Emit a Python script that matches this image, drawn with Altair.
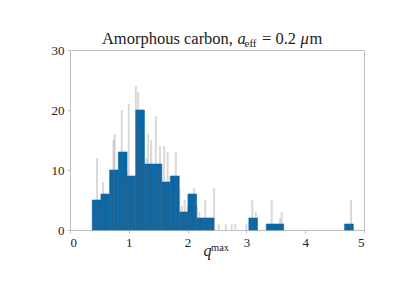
import altair as alt
import pandas as pd

SERIF = "'Liberation Serif', 'DejaVu Serif', serif"
BLUE = "#0668a9"
FRAME = "#c0c0c0"

# histogram bin edges (q^max) and counts
edges = [0.378, 0.526, 0.674, 0.822, 0.970, 1.118, 1.266, 1.414, 1.562, 1.710,
         1.858, 2.006, 2.154, 2.302, 2.450, 2.598, 2.746, 2.894, 3.042, 3.190,
         3.338, 3.486, 3.634, 3.782, 3.930, 4.078, 4.226, 4.374, 4.522, 4.670, 4.818]
counts = [5, 6, 10, 13, 9, 20, 11, 11, 8, 9, 3, 6, 2, 2, 0, 0, 0, 0, 2, 0,
          1, 1, 0, 0, 0, 0, 0, 0, 0, 1]

# thin grey lines (finer histogram)
grey_pos = [0.42, 0.46, 0.50, 0.56, 0.62, 0.70, 0.74, 0.76, 0.80, 0.88, 0.92, 0.96,
            1.00, 1.04, 1.08, 1.12, 1.16, 1.20, 1.24, 1.30, 1.33, 1.38, 1.42, 1.46,
            1.50, 1.53, 1.56, 1.60, 1.66, 1.70, 1.75, 1.80, 1.86, 1.90, 1.95, 2.00,
            2.05, 2.11, 2.16, 2.20, 2.26, 2.30, 2.36, 2.40, 2.45, 2.53, 2.65, 2.75,
            2.81, 3.00, 3.10, 3.16, 3.43, 3.57, 3.60, 4.78]
grey_h = [3, 12, 4, 8, 5, 7, 15, 16, 9, 20, 8, 10,
          21, 8, 9, 24, 23, 17, 11, 12, 16, 15, 7, 19,
          10, 14, 6, 14, 13, 9, 6, 13, 7, 4, 5, 4,
          3, 7, 4, 3, 2, 5, 2, 1, 7, 1, 1, 1,
          1, 1, 5, 3, 5, 2, 3, 5]

x_ticks = [0, 1, 2, 3, 4, 5]
y_ticks = [0, 5, 10, 15, 20, 25, 30]

bars_df = pd.DataFrame({"x0": edges[:-1], "x1": edges[1:], "count": counts})
bars_df = bars_df[bars_df["count"] > 0]
grey_df = pd.DataFrame({"pos": grey_pos, "h": grey_h})

xscale = alt.Scale(domain=[0, 5], nice=False)
yscale = alt.Scale(domain=[0, 30], nice=False)
axis_common = dict(grid=False, title=None, format="d", labelFont=SERIF, labelFontSize=13,
                   labelColor="#222222", domainColor=FRAME, tickColor=FRAME,
                   tickSize=3, labelPadding=3)

bars = alt.Chart(bars_df).mark_bar(color=BLUE, stroke=BLUE, strokeWidth=0.6, opacity=1).encode(
    x=alt.X("x0:Q", scale=xscale, axis=alt.Axis(values=x_ticks, **axis_common)),
    x2="x1:Q",
    y=alt.Y("count:Q", scale=yscale, axis=alt.Axis(values=y_ticks, **axis_common)),
    y2=alt.datum(0),
)

grey = alt.Chart(grey_df).mark_rule(color="#646464", opacity=0.245, strokeWidth=2).encode(
    x=alt.X("pos:Q", scale=xscale),
    y=alt.Y("h:Q", scale=yscale),
    y2=alt.datum(0),
)


def piece(txt, x, y, size, italic=False, align="left"):
    return alt.Chart(pd.DataFrame({"t": [txt]})).mark_text(
        align=align, baseline="alphabetic", font=SERIF, fontSize=size,
        fontStyle="italic" if italic else "normal", color="#222222", x=x, y=y
    ).encode(text="t:N")


title_y = -6
texts = [
    piece("Amorphous carbon,", 163, title_y, 16.5, align="right"),
    piece("a", 167.5, title_y, 16.5, True),
    piece("eff", 174.5, title_y + 3, 11),
    piece("= 0.2", 192, title_y, 16.5),
    piece("μ", 230.5, title_y, 16.5, True),
    piece("m", 239.5, title_y, 16.5),
    piece("q", 133.5, 206, 16, True),
    piece("max", 141, 201, 10.5),
]

chart = alt.layer(bars, grey, *texts).properties(
    width=294, height=180,
    autosize=alt.AutoSizeParams(type="none"),
    padding={"left": 62, "top": 42, "right": 8, "bottom": 40},
).configure_view(stroke=FRAME, strokeWidth=1)

chart.save("out.html", embed_options={"renderer": "svg", "actions": False})
